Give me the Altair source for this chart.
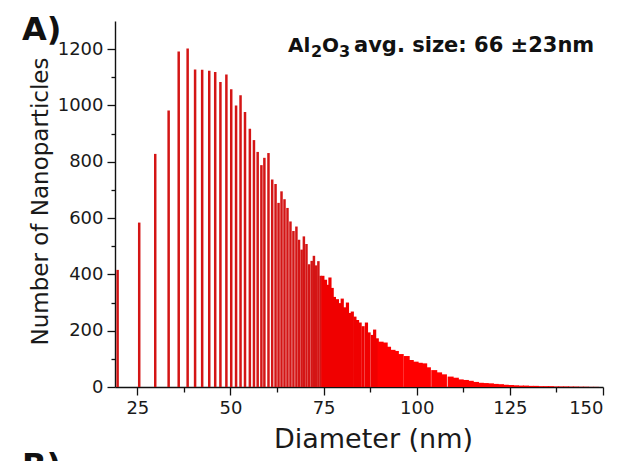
import altair as alt
import pandas as pd

# --- data (diameter in nm, count) ---
sparse_diam = [19.7, 25.5, 29.8, 33.4, 36.1, 38.5, 40.5, 42.4, 44.3, 45.9, 47.3, 48.9,
               50.2, 51.5, 52.7, 53.9, 55.2, 56.3, 57.3, 58.3, 59.1, 60.2, 61.2, 62.1,
               62.9, 63.7, 64.5, 65.3, 66.1, 66.9, 67.7, 68.4, 69.1, 69.7, 70.4, 71.1,
               71.8, 72.4, 73.0, 73.6, 74.2]
sparse_count = [416, 584, 828, 982, 1192, 1202, 1128, 1127, 1123, 1119, 1083, 1110,
                1058, 1000, 1036, 977, 917, 877, 835, 788, 814, 831, 737, 721,
                654, 695, 667, 636, 588, 554, 570, 523, 488, 535, 508, 436,
                448, 466, 432, 447, 395]

mid_diam = [74.8, 75.5, 76.1, 76.7, 77.3, 77.9, 78.7, 79.4, 80.0, 80.6, 81.4, 82.1,
            82.7, 83.4, 84.1, 84.8, 85.6, 86.5, 87.2, 88.1, 88.7, 89.4]
mid_count = [395, 381, 363, 389, 352, 320, 312, 298, 314, 283, 300, 263,
             268, 250, 238, 229, 216, 229, 194, 185, 204, 173]

tail_diam = [90.3, 91.4, 92.3, 93.5, 94.4, 95.7, 97.3, 98.4, 99.7, 100.8, 102.0, 103.0,
             104.7, 106.0, 107.3, 109.1, 110.5, 111.8, 113.2, 114.5, 115.9, 117.2,
             118.5, 119.9, 121.2, 122.6, 123.9, 125.3, 126.6, 128.0, 129.3, 130.6,
             132.0, 133.3, 134.7, 136.0, 137.4, 138.7, 140.1, 141.4, 142.7, 144.1,
             145.4, 146.8, 148.1]
tail_count = [161, 158, 143, 132, 128, 117, 110, 96, 90, 86, 84, 70,
              60, 52, 45, 37, 33, 27, 25, 22, 18, 15,
              14, 13, 11, 10, 8, 7, 6, 5, 5, 4,
              4, 3, 3, 3, 2, 2, 2, 1.5, 1.5, 1,
              1, 0.5, 0.5]

x_ticks = [25, 37.5, 50, 62.5, 75, 87.5, 100, 112.5, 125, 137.5, 150]
y_ticks = [0, 100, 200, 300, 400, 500, 600, 700, 800, 900, 1000, 1100, 1200]

FONT = "DejaVu Sans"

df_sparse = pd.DataFrame({"d": sparse_diam, "n": sparse_count})
df_mid = pd.DataFrame({"d": mid_diam, "n": mid_count})
df_tail = pd.DataFrame({"d": tail_diam, "n": tail_count})

x_enc = alt.X(
    "d:Q",
    scale=alt.Scale(domain=[19, 150], nice=False, zero=False, padding=0),
    axis=alt.Axis(
        title="Diameter (nm)",
        values=x_ticks,
        format="d",
        labelExpr="datum.value % 25 === 0 ? datum.label : ''",
        tickSize={"condition": {"test": "datum.value % 25 !== 0", "value": 5}, "value": 8},
        labelFontSize=18,
        titleFontSize=27,
        titleFontWeight="normal",
        titleX=258,
        titleY=60,
        titleAlign="center",
        titleBaseline="alphabetic",
        grid=False,
    ),
)
y_enc = alt.Y(
    "n:Q",
    scale=alt.Scale(domain=[0, 1300], nice=False, padding=0),
    axis=alt.Axis(
        title="Number of Nanoparticles",
        values=y_ticks,
        format="d",
        labelExpr="datum.value % 200 === 0 ? datum.label : ''",
        tickSize={"condition": {"test": "datum.value % 200 !== 0", "value": 4}, "value": 8},
        labelFontSize=18,
        titleFontSize=23,
        titleFontWeight="normal",
        titleX=-68,
        titleY=180,
        titleAlign="center",
        titleBaseline="alphabetic",
        grid=False,
    ),
)

sparse = alt.Chart(df_sparse).mark_bar(size=2.5, color="#d41515").encode(x=x_enc, y=y_enc)
mid = alt.Chart(df_mid).mark_bar(size=3.2, color="#f00000").encode(x=x_enc, y=y_enc)
tail = alt.Chart(df_tail).mark_bar(size=6, color="#ff0000").encode(x=x_enc, y=y_enc)

one = alt.Data(values=[{}])


def txt(s, x, y, size, weight="bold"):
    return alt.Chart(one).mark_text(
        text=s, font=FONT, fontSize=size, fontWeight=weight, align="left",
        baseline="alphabetic", color="#111111"
    ).encode(x=alt.value(x), y=alt.value(y))


texts = [
    txt("A)", -93, 19, 32),
    txt("B)", -93, 455, 32),
    txt("Al", 173, 31, 20),
    txt("2", 196, 35.5, 16),
    txt("O", 207, 31, 20),
    txt("3", 224, 35.5, 16),
    txt("avg. size: 66 \u00b123nm", 239, 31, 21),
]

chart = alt.layer(sparse, mid, tail, *texts).properties(
    width=488,
    height=366,
    padding={"left": 115, "top": 21, "right": 23, "bottom": 74},
    autosize=alt.AutoSizeParams(type="none"),
    background="white",
).configure_view(stroke=None).configure_axis(
    labelFont=FONT,
    titleFont=FONT,
    labelColor="#1a1a1a",
    titleColor="#1a1a1a",
    domainColor="#111111",
    tickColor="#111111",
    domainWidth=1.4,
    tickWidth=1.3,
    labelPadding=4,
)

chart.save("out.html", embed_options={"renderer": "svg", "actions": False})
